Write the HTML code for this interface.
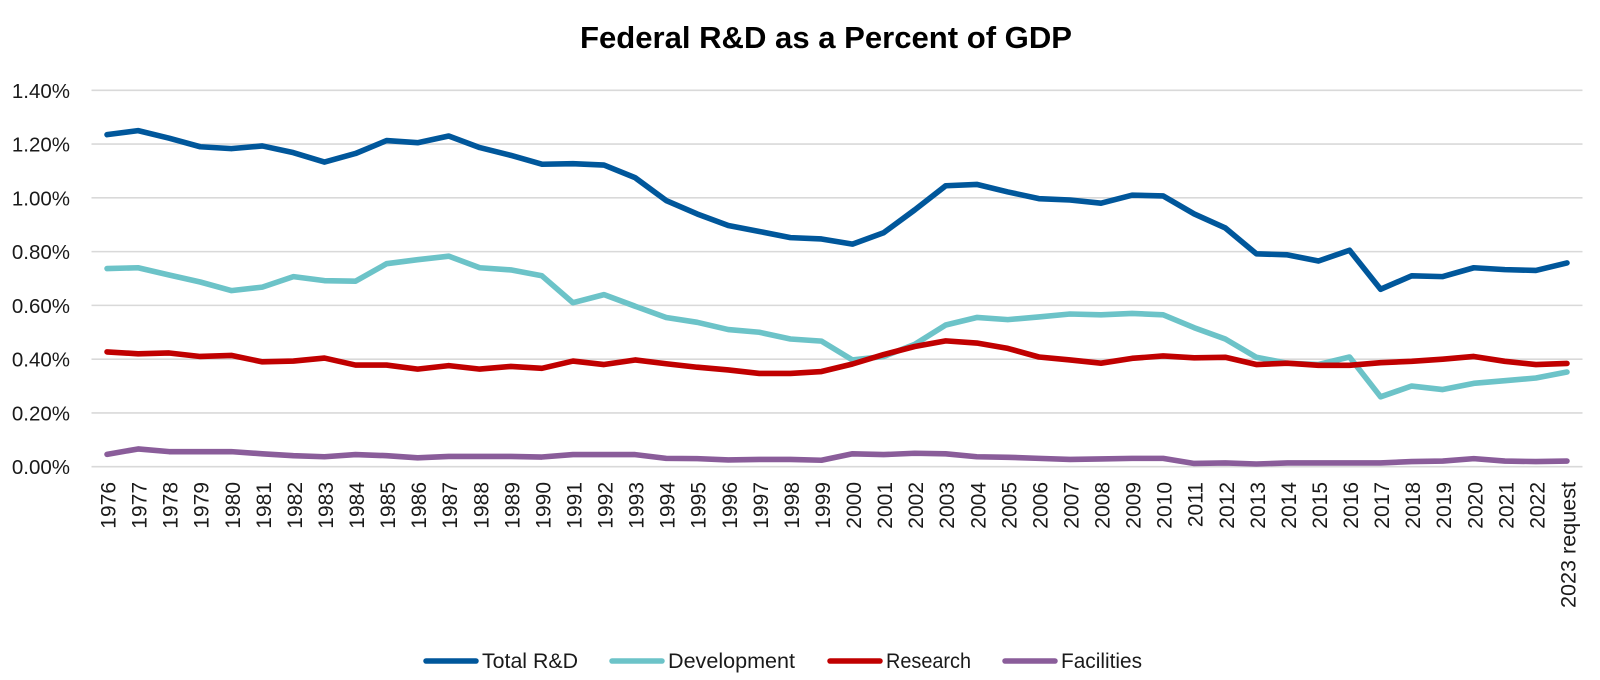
<!DOCTYPE html>
<html lang="en">
<head>
<meta charset="utf-8">
<title>Federal R&amp;D as a Percent of GDP</title>
<style>
html,body{margin:0;padding:0;background:#fff;}
svg{display:block;}
text{font-family:"Liberation Sans",sans-serif;fill:#1a1a1a;}
</style>
</head>
<body>
<svg id="chart" xmlns="http://www.w3.org/2000/svg" width="1600" height="680" viewBox="0 0 1600 680">
  <text x="580" y="48" font-size="30.5" font-weight="700" textLength="492" lengthAdjust="spacingAndGlyphs" style="fill:#000">Federal R&amp;D as a Percent of GDP</text>
  <g id="grid"></g>
  <g id="yaxis"></g>
  <g id="xaxis"></g>
  <g id="plot"></g>
  <g>
    <g>
      <line x1="426" x2="476" y1="661" y2="661" stroke="#00579b" stroke-width="5.5" stroke-linecap="round"/>
      <text x="482" y="668" font-size="21" textLength="96" lengthAdjust="spacingAndGlyphs">Total R&amp;D</text>
    </g>
    <g>
      <line x1="612" x2="662" y1="661" y2="661" stroke="#6cc3c8" stroke-width="5.5" stroke-linecap="round"/>
      <text x="668" y="668" font-size="21" textLength="127" lengthAdjust="spacingAndGlyphs">Development</text>
    </g>
    <g>
      <line x1="830" x2="880" y1="661" y2="661" stroke="#c00000" stroke-width="5.5" stroke-linecap="round"/>
      <text x="886" y="668" font-size="21" textLength="85" lengthAdjust="spacingAndGlyphs">Research</text>
    </g>
    <g>
      <line x1="1005" x2="1055" y1="661" y2="661" stroke="#8a5d9a" stroke-width="5.5" stroke-linecap="round"/>
      <text x="1061" y="668" font-size="21" textLength="81" lengthAdjust="spacingAndGlyphs">Facilities</text>
    </g>
  </g>
</svg>
<script>
const categories = ["1976","1977","1978","1979","1980","1981","1982","1983","1984","1985","1986","1987","1988","1989","1990","1991","1992","1993","1994","1995","1996","1997","1998","1999","2000","2001","2002","2003","2004","2005","2006","2007","2008","2009","2010","2011","2012","2013","2014","2015","2016","2017","2018","2019","2020","2021","2022","2023 request"];
const yTicks = [0,0.2,0.4,0.6,0.8,1.0,1.2,1.4];
const totalRD = [1.235,1.25,1.222,1.19,1.183,1.193,1.168,1.133,1.165,1.213,1.205,1.23,1.187,1.158,1.125,1.127,1.122,1.075,0.99,0.94,0.897,0.875,0.852,0.847,0.828,0.87,0.955,1.045,1.05,1.022,0.997,0.992,0.98,1.01,1.007,0.94,0.888,0.792,0.788,0.765,0.805,0.66,0.71,0.707,0.74,0.733,0.73,0.758];
const development = [0.737,0.74,0.713,0.687,0.655,0.668,0.707,0.692,0.69,0.755,0.77,0.783,0.74,0.732,0.71,0.61,0.64,0.597,0.555,0.537,0.51,0.5,0.475,0.467,0.397,0.41,0.455,0.527,0.555,0.547,0.557,0.568,0.565,0.57,0.565,0.517,0.475,0.407,0.385,0.38,0.408,0.26,0.3,0.287,0.31,0.32,0.33,0.352];
const research = [0.427,0.42,0.423,0.41,0.414,0.39,0.393,0.404,0.378,0.378,0.363,0.376,0.363,0.373,0.366,0.393,0.38,0.397,0.383,0.37,0.36,0.347,0.347,0.354,0.382,0.417,0.447,0.468,0.46,0.44,0.408,0.397,0.385,0.403,0.412,0.405,0.407,0.38,0.385,0.377,0.377,0.387,0.392,0.4,0.41,0.392,0.38,0.384];
const facilities = [0.046,0.066,0.056,0.056,0.056,0.048,0.041,0.037,0.045,0.041,0.033,0.038,0.038,0.038,0.036,0.045,0.045,0.045,0.031,0.03,0.025,0.027,0.027,0.024,0.048,0.045,0.05,0.048,0.037,0.035,0.031,0.027,0.029,0.031,0.031,0.012,0.014,0.01,0.014,0.014,0.014,0.014,0.019,0.021,0.03,0.021,0.019,0.021];

const NS = "http://www.w3.org/2000/svg";
const plotLeft = 91.5, plotRight = 1582.5, plotTop = 90.3, plotBottom = 466.7, yMax = 1.4;
const xScale = i => plotLeft + (i + 0.5) * (plotRight - plotLeft) / categories.length;
const yScale = v => plotBottom - (v / yMax) * (plotBottom - plotTop);

const gridG = document.getElementById("grid");
const yG = document.getElementById("yaxis");
const xG = document.getElementById("xaxis");
const plotG = document.getElementById("plot");

yTicks.forEach(t => {
  const y = yScale(t);
  const ln = document.createElementNS(NS, "line");
  
  
  ln.setAttribute("x1", plotLeft);
  ln.setAttribute("x2", plotRight);
  ln.setAttribute("y1", y);
  ln.setAttribute("y2", y);
  ln.setAttribute("stroke", "#d9d9d9");
  ln.setAttribute("stroke-width", "1.6");
  gridG.appendChild(ln);
  const tx = document.createElementNS(NS, "text");
  
  
  tx.setAttribute("x", 70);
  tx.setAttribute("y", y + 7.5);
  tx.setAttribute("text-anchor", "end");
  tx.setAttribute("font-size", "20.5");
  tx.textContent = t.toFixed(2) + "%";
  yG.appendChild(tx);
});

categories.forEach((c, i) => {
  const x = xScale(i);
  const tx = document.createElementNS(NS, "text");
  
  
  tx.setAttribute("transform", "translate(" + (x + 8.5) + ",482) rotate(-90)");
  tx.setAttribute("text-anchor", "end");
  tx.setAttribute("font-size", "21");
  if (c.length > 4) {
    tx.setAttribute("textLength", "126");
    tx.setAttribute("lengthAdjust", "spacingAndGlyphs");
  }
  tx.textContent = c;
  xG.appendChild(tx);
});

function drawSeries(values, color, name) {
  const p = document.createElementNS(NS, "polyline");
  
  
  p.setAttribute("points", values.map((v, i) => xScale(i).toFixed(2) + "," + yScale(v).toFixed(2)).join(" "));
  p.setAttribute("fill", "none");
  p.setAttribute("stroke", color);
  p.setAttribute("stroke-width", "5.6");
  p.setAttribute("stroke-linecap", "round");
  p.setAttribute("stroke-linejoin", "round");
  plotG.appendChild(p);
}
drawSeries(totalRD, "#00579b", "series-total-rd");
drawSeries(development, "#6cc3c8", "series-development");
drawSeries(research, "#c00000", "series-research");
drawSeries(facilities, "#8a5d9a", "series-facilities");
</script>
</body>
</html>
